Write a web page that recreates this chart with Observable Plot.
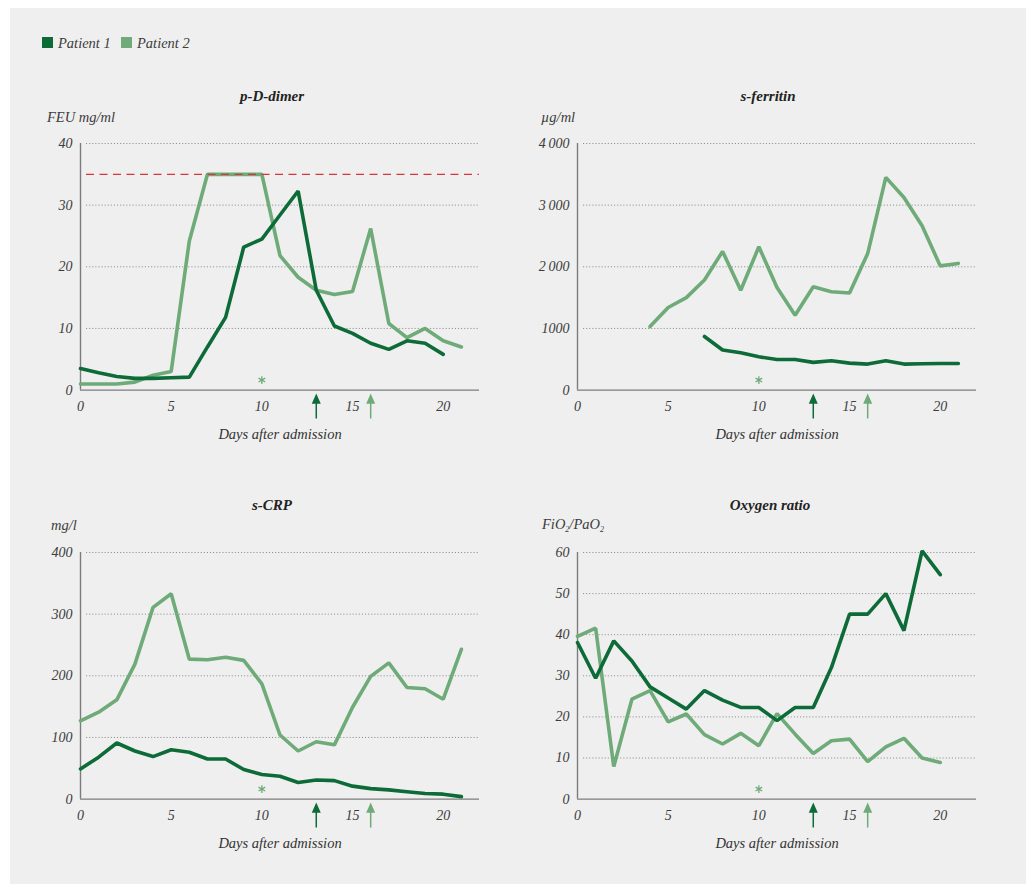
<!DOCTYPE html>
<html>
<head>
<meta charset="utf-8">
<script src="https://cdn.jsdelivr.net/npm/d3@7"></script>
<script src="https://cdn.jsdelivr.net/npm/@observablehq/plot@0.6"></script>
<style>
  html, body { margin: 0; padding: 0; background: #ffffff; }
  #page { position: relative; width: 1026px; height: 884px; overflow: hidden; background: #ffffff; }
  #card { position: absolute; left: 10px; top: 8px; width: 1016px; height: 876px; background: #efefef; }
  .abs { position: absolute; font-family: "Liberation Serif", serif; font-style: italic; color: #333; white-space: nowrap; }
  .title { font-weight: bold; font-size: 15px; color: #222; transform: translate(-50%, -50%); }
  .unit { font-size: 14.5px; color: #3c3c3c; transform: translateY(-50%); }
  .unit sub { font-size: 8px; vertical-align: -3px; }
  .sq { position: absolute; width: 11px; height: 11px; }
  .leg { font-size: 14.5px; color: #3c3c3c; }
  .panel { position: absolute; }
</style>
</head>
<body>
<div id="page">
  <div id="card"></div>
</div>
<script>
// ---------- data ----------
const days = [0,1,2,3,4,5,6,7,8,9,10,11,12,13,14,15,16,17,18,19,20,21];
const xTicks = [0,5,10,15,20];
const seriesNames = ["Patient 1", "Patient 2"];

const dimerP1 = [3.5, 2.8, 2.2, 1.9, 1.9, 2.0, 2.1, 7.0, 11.8, 23.2, 24.5, 28.4, 32.3, 16.2, 10.4, 9.2, 7.6, 6.6, 8.0, 7.6, 5.8, null];
const dimerP2 = [1.0, 1.0, 1.0, 1.3, 2.4, 3.0, 24.2, 35, 35, 35, 35, 21.8, 18.3, 16.2, 15.5, 16.0, 26.2, 10.8, 8.5, 10.0, 8.0, 7.0];
const dimerTicks = [0,10,20,30,40];
const dimerTickLabels = ["0","10","20","30","40"];
const dimerLimit = [35];

const ferritinP1 = [null, null, null, null, null, null, null, 870, 650, 605, 540, 497, 497, 450, 476, 438, 422, 476, 422, 427, 432, 432];
const ferritinP2 = [null, null, null, null, 1030, 1340, 1500, 1785, 2250, 1620, 2325, 1665, 1215, 1675, 1595, 1575, 2215, 3450, 3125, 2665, 2015, 2055];
const ferritinTicks = [0,1000,2000,3000,4000];
const ferritinTickLabels = ["0","1000","2\u2009000","3\u2009000","4\u2009000"];

const crpP1 = [49, 68, 91, 78, 69, 80, 76, 65, 65, 48, 40, 37, 27, 31, 30, 21, 17, 15, 12, 9, 8, 4];
const crpP2 = [127, 141, 161, 219, 311, 333, 227, 226, 230, 225, 187, 104, 78, 93, 88, 149, 199, 221, 181, 179, 162, 243];
const crpTicks = [0,100,200,300,400];
const crpTickLabels = ["0","100","200","300","400"];

const oxyP1 = [38.1, 29.4, 38.5, 33.6, 27.3, 24.6, 21.9, 26.4, 24.1, 22.3, 22.3, 19.1, 22.3, 22.3, 32.0, 45.0, 45.0, 50.0, 41.0, 60.4, 54.6, null];
const oxyP2 = [39.6, 41.6, 7.9, 24.3, 26.4, 18.8, 20.7, 15.7, 13.4, 16.0, 13.0, 20.8, 15.8, 11.1, 14.2, 14.6, 9.1, 12.7, 14.8, 10.0, 8.9, null];
const oxyTicks = [0,10,20,30,40,50,60];
const oxyTickLabels = ["0","10","20","30","40","50","60"];

// annotations: asterisk day, treatment arrows (day per patient)
const asteriskDay = [10];
const arrowDays = [13, 16];   // Patient 1, Patient 2

// ---------- styling ----------
const dark = "#0d6b38";
const light = "#6eab78";
const axisGray = "#7c7c7c";
const gridGray = "#8f8f8f";

// custom filled arrow symbol (points up)
const arrowSymbol = {
  draw(ctx) {
    ctx.moveTo(0, -12.5);
    ctx.lineTo(4.5, -2.3);
    ctx.lineTo(0.75, -2.3);
    ctx.lineTo(0.75, 12.5);
    ctx.lineTo(-0.75, 12.5);
    ctx.lineTo(-0.75, -2.3);
    ctx.lineTo(-4.5, -2.3);
    ctx.closePath();
  }
};

const page = document.getElementById("page");

// legend
function addDiv(cls, left, top, html, extra) {
  const d = document.createElement("div");
  d.className = cls;
  d.style.left = left + "px";
  d.style.top = top + "px";
  d.innerHTML = html;
  if (extra) Object.assign(d.style, extra);
  page.appendChild(d);
  return d;
}
addDiv("sq", 42, 37, "", {background: dark});
addDiv("abs leg", 58, 35, seriesNames[0]);
addDiv("sq", 121, 37, "", {background: light});
addDiv("abs leg", 137, 35, seriesNames[1]);

function panel(opts) {
  const {left, top, yMax, yTicks, yLabels, p1, p2, ref} = opts;
  const d1 = days.map((d, i) => ({day: d, v: p1[i]}));
  const d2 = days.map((d, i) => ({day: d, v: p2[i]}));
  const marks = [
    Plot.ruleY(yTicks.filter(t => t > 0), {stroke: gridGray, strokeDasharray: "1.1,2", strokeWidth: 1, insetLeft: 6}),
    Plot.ruleY([0], {stroke: axisGray, strokeWidth: 1.4}),
    Plot.ruleX([{x: 0, y1: 0, y2: yMax}], {x: "x", y1: "y1", y2: "y2", stroke: axisGray, strokeWidth: 1.4}),
    Plot.axisY({ticks: yTicks, tickFormat: (d, i) => yLabels[i], tickSize: 0, tickPadding: 8, label: null, fontSize: 14}),
    Plot.axisX({ticks: xTicks, tickSize: 0, tickPadding: 11, label: null, fontSize: 14}),
    Plot.text(["Days after admission"], {text: d => d, frameAnchor: "bottom", dy: 49, fontSize: 14.5, fill: "#333"}),
    Plot.line(d2, {x: "day", y: "v", stroke: light, strokeWidth: 3.6, strokeLinejoin: "miter"}),
    Plot.line(d1, {x: "day", y: "v", stroke: dark, strokeWidth: 3.6, strokeLinejoin: "miter"}),
    Plot.dot(asteriskDay, {x: d => d, y: () => 0, dy: -10, symbol: "asterisk", r: 3.6, stroke: light, strokeWidth: 1.3}),
    Plot.dot([{day: arrowDays[0], c: dark}, {day: arrowDays[1], c: light}], {x: "day", y: () => 0, dy: 16, symbol: arrowSymbol, r: 5, fill: d => d.c, stroke: "none"})
  ];
  if (ref) marks.push(Plot.ruleY(ref, {stroke: "#d6363c", strokeWidth: 1.4, strokeDasharray: "8,5.5", insetLeft: 6}));
  const svg = Plot.plot({
    width: 480, height: 320,
    marginLeft: 60, marginRight: 21, marginTop: 20, marginBottom: 53.4,
    x: {domain: [0, 22]},
    y: {domain: [0, yMax]},
    color: {type: "identity"},
    style: {background: "transparent", fontFamily: "'Liberation Serif', serif", fontStyle: "italic", fontSize: "14px", color: "#3c3c3c", overflow: "visible"},
    marks
  });
  const wrap = document.createElement("div");
  wrap.className = "panel";
  wrap.style.left = left + "px";
  wrap.style.top = top + "px";
  wrap.appendChild(svg);
  page.appendChild(wrap);
}

// panels
panel({left: 20, top: 122.7, yMax: 40, yTicks: dimerTicks, yLabels: dimerTickLabels, p1: dimerP1, p2: dimerP2, ref: dimerLimit});
addDiv("abs title", 272, 96, "p-D-dimer");
addDiv("abs unit", 47, 117, "FEU mg/ml");

panel({left: 516.7, top: 122.7, yMax: 4000, yTicks: ferritinTicks, yLabels: ferritinTickLabels, p1: ferritinP1, p2: ferritinP2});
addDiv("abs title", 768, 96, "s-ferritin");
addDiv("abs unit", 541, 117, "\u00b5g/ml");

panel({left: 20, top: 531.7, yMax: 400, yTicks: crpTicks, yLabels: crpTickLabels, p1: crpP1, p2: crpP2});
addDiv("abs title", 272, 505, "s-CRP");
addDiv("abs unit", 51, 525, "mg/l");

panel({left: 516.7, top: 531.7, yMax: 60, yTicks: oxyTicks, yLabels: oxyTickLabels, p1: oxyP1, p2: oxyP2});
addDiv("abs title", 770, 505, "Oxygen ratio");
addDiv("abs unit", 542, 525, "FiO<sub>2</sub>/PaO<sub>2</sub>");
</script>
</body>
</html>
